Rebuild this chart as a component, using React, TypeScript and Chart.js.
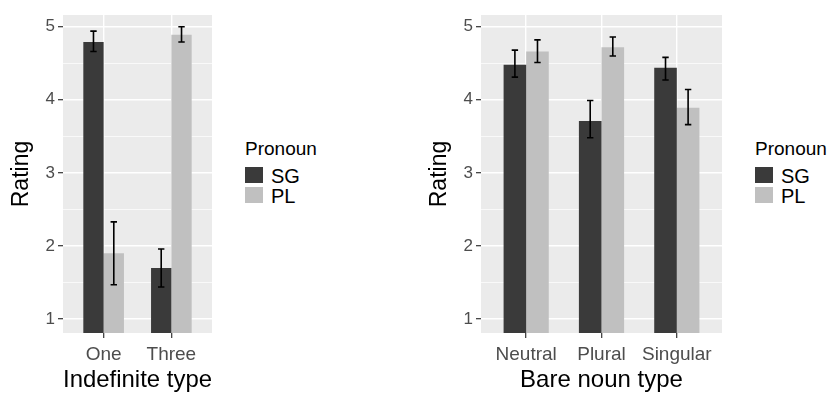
import React, { useEffect, useRef } from 'react';
import { Chart, registerables } from 'chart.js';
Chart.register(...registerables);

// ---- data ----
const indefCategories = ['One', 'Three'];
const indefSG = [4.79, 1.7];
const indefSGLo = [4.66, 1.44];
const indefSGHi = [4.94, 1.96];
const indefPL = [1.9, 4.89];
const indefPLLo = [1.47, 4.79];
const indefPLHi = [2.33, 5.0];

const bareCategories = ['Neutral', 'Plural', 'Singular'];
const bareSG = [4.48, 3.71, 4.44];
const bareSGLo = [4.31, 3.48, 4.27];
const bareSGHi = [4.68, 3.99, 4.58];
const barePL = [4.66, 4.72, 3.89];
const barePLLo = [4.51, 4.6, 3.66];
const barePLHi = [4.82, 4.86, 4.14];

const yTickValues = [1, 1.5, 2, 2.5, 3, 3.5, 4, 4.5, 5];
const seriesNames = ['SG', 'PL'];
const legendTitle = 'Pronoun';
const yTitle = 'Rating';

// ---- style ----
const FONT = "'Liberation Sans', Arial, Helvetica, sans-serif";
const SG_COLOR = '#3a3a3a';
const PL_COLOR = '#c0c0c0';
const PANEL_BG = '#ebebeb';

const bgPlugin = {
  id: 'panelBg',
  beforeDraw(chart: any) {
    const { ctx, chartArea } = chart;
    ctx.save();
    ctx.fillStyle = PANEL_BG;
    ctx.fillRect(chartArea.left, chartArea.top, chartArea.right - chartArea.left, chartArea.bottom - chartArea.top);
    ctx.restore();
  },
};

const errPlugin = {
  id: 'errBars',
  afterDatasetsDraw(chart: any) {
    const ctx = chart.ctx;
    const ys = chart.scales.y;
    chart.data.datasets.forEach((ds: any, di: number) => {
      const meta = chart.getDatasetMeta(di);
      meta.data.forEach((el: any, i: number) => {
        const x = el.x;
        const yl = ys.getPixelForValue(ds.errLo[i]);
        const yh = ys.getPixelForValue(ds.errHi[i]);
        ctx.save();
        ctx.strokeStyle = '#000';
        ctx.lineWidth = 1.6;
        ctx.beginPath();
        ctx.moveTo(x, yh);
        ctx.lineTo(x, yl);
        ctx.moveTo(x - 3.2, yh);
        ctx.lineTo(x + 3.2, yh);
        ctx.moveTo(x - 3.2, yl);
        ctx.lineTo(x + 3.2, yl);
        ctx.stroke();
        ctx.restore();
      });
    });
  },
};

type PanelProps = {
  categories: string[];
  sg: number[]; sgLo: number[]; sgHi: number[];
  pl: number[]; plLo: number[]; plHi: number[];
  xTitle: string;
  left: number;
  width: number;
};

function Panel(p: PanelProps) {
  const ref = useRef<HTMLCanvasElement | null>(null);
  useEffect(() => {
    if (!ref.current) return;
    const toPts = (v: number[]) => v.map((y, i) => ({ x: i + 1, y }));
    const n = p.categories.length;
    const chart = new Chart(ref.current, {
      type: 'bar',
      data: {
        datasets: [
          { label: seriesNames[0], data: toPts(p.sg), backgroundColor: SG_COLOR, categoryPercentage: 0.6, barPercentage: 1, errLo: p.sgLo, errHi: p.sgHi } as any,
          { label: seriesNames[1], data: toPts(p.pl), backgroundColor: PL_COLOR, categoryPercentage: 0.6, barPercentage: 1, errLo: p.plLo, errHi: p.plHi } as any,
        ],
      },
      options: {
        animation: false,
        responsive: false,
        maintainAspectRatio: false,
        layout: { padding: { left: 0, top: 15, right: 4, bottom: 0 } },
        plugins: { legend: { display: false }, tooltip: { enabled: false } },
        scales: {
          x: {
            type: 'linear',
            offset: false,
            min: 0.4,
            max: n + 0.6,
            afterBuildTicks: (s: any) => { s.ticks = p.categories.map((_, i) => ({ value: i + 1 })); },
            afterFit: (s: any) => { s.height = 60; },
            ticks: {
              autoSkip: false, maxRotation: 0, minRotation: 0,
              callback: (v: any) => p.categories[Number(v) - 1] ?? '',
              color: '#4d4d4d', font: { family: FONT, size: 19 }, padding: 5,
            },
            grid: { offset: false, color: '#ffffff', lineWidth: 1.4, tickLength: 5, tickColor: '#333333', tickWidth: 1.2 },
            border: { display: false },
            title: { display: true, text: p.xTitle, color: '#000', font: { family: FONT, size: 24 }, padding: { top: 0, bottom: -2 } },
          },
          y: {
            type: 'linear',
            min: 0.81,
            max: 5.16,
            afterBuildTicks: (s: any) => { s.ticks = yTickValues.map((v) => ({ value: v })); },
            afterFit: (s: any) => { s.width = 63; },
            ticks: {
              autoSkip: false,
              callback: (v: any) => (Number(v) % 1 === 0 ? String(v) : ''),
              color: '#4d4d4d', font: { family: FONT, size: 17 }, padding: 3,
            },
            grid: {
              color: '#ffffff',
              lineWidth: (c: any) => (c.tick && c.tick.value % 1 !== 0 ? 0.7 : 1.4),
              tickLength: 5,
              tickColor: (c: any) => (c.tick && c.tick.value % 1 !== 0 ? 'rgba(0,0,0,0)' : '#333333'),
              tickWidth: 1.2,
            },
            border: { display: false },
            title: { display: true, text: yTitle, color: '#000', font: { family: FONT, size: 23 }, padding: { top: 8, bottom: 0 } },
          },
        },
      } as any,
      plugins: [bgPlugin, errPlugin],
    });
    return () => chart.destroy();
  }, []);
  return (
    <canvas
      ref={ref}
      width={p.width}
      height={393}
      style={{ position: 'absolute', left: p.left, top: 0, width: p.width, height: 393 }}
    />
  );
}

function Legend({ left }: { left: number }) {
  const box = (color: string, top: number) => (
    <div style={{ position: 'absolute', left, top, width: 18, height: 16, background: color }} />
  );
  const txt = (t: string, x: number, top: number, size: number) => (
    <div style={{ position: 'absolute', left: x, top, fontFamily: FONT, fontSize: size, lineHeight: `${size}px`, color: '#000', whiteSpace: 'nowrap' }}>{t}</div>
  );
  return (
    <>
      {txt(legendTitle, left, 139, 19)}
      {box(SG_COLOR, 167)}
      {box(PL_COLOR, 187)}
      {txt(seriesNames[0], left + 26, 166, 20)}
      {txt(seriesNames[1], left + 26, 186, 20)}
    </>
  );
}

export default function App() {
  return (
    <div style={{ position: 'absolute', left: 0, top: 0, width: 832, height: 393, background: '#fff', overflow: 'hidden' }}>
      <Panel categories={indefCategories} sg={indefSG} sgLo={indefSGLo} sgHi={indefSGHi} pl={indefPL} plLo={indefPLLo} plHi={indefPLHi} xTitle="Indefinite type" left={0} width={216} />
      <Legend left={245} />
      <Panel categories={bareCategories} sg={bareSG} sgLo={bareSGLo} sgHi={bareSGHi} pl={barePL} plLo={barePLLo} plHi={barePLHi} xTitle="Bare noun type" left={418} width={308} />
      <Legend left={755} />
    </div>
  );
}
